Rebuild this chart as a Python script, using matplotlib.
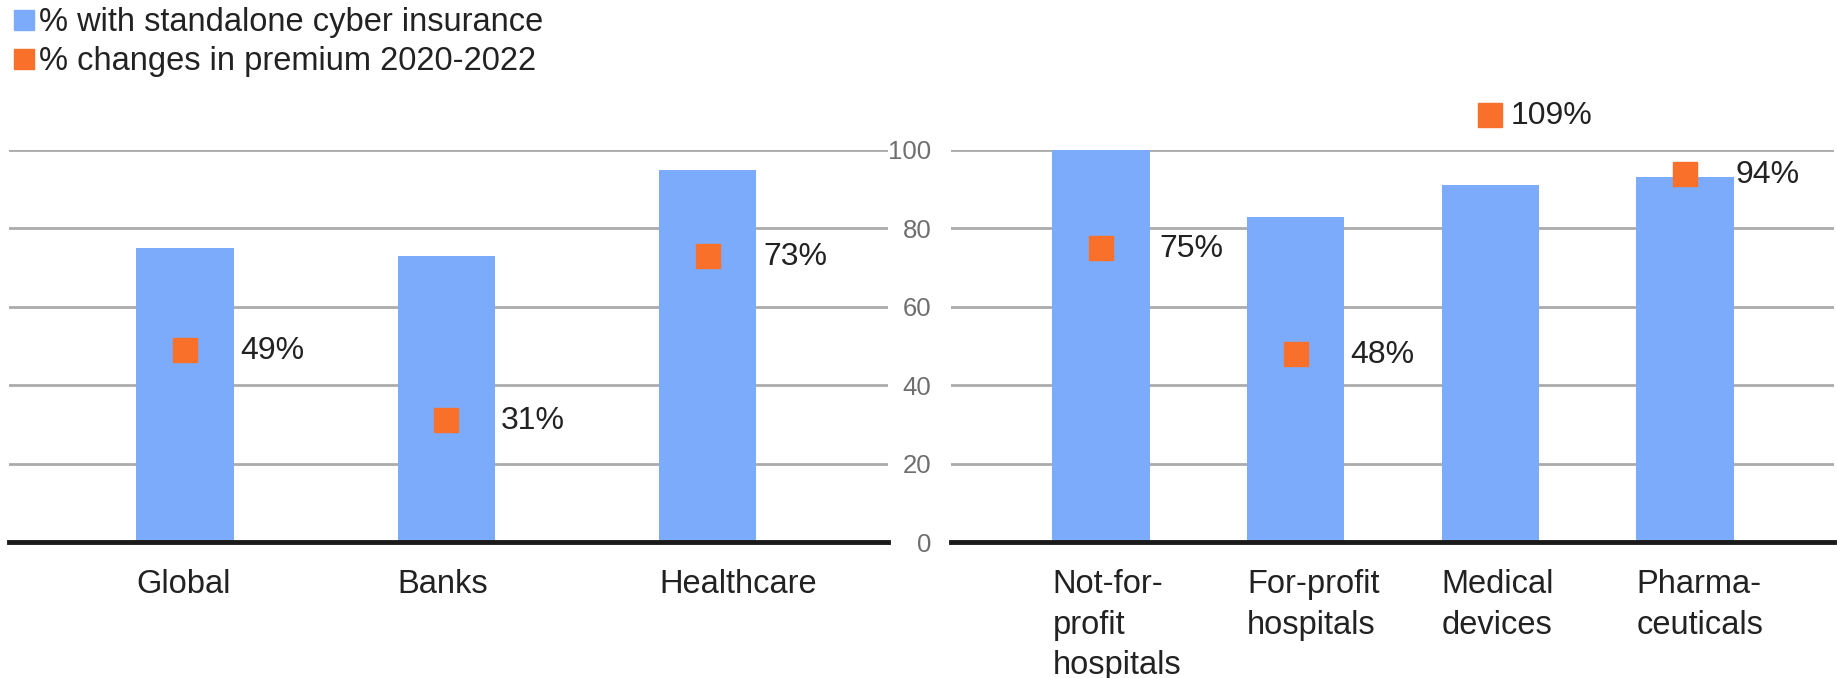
import matplotlib.pyplot as plt
from matplotlib.lines import Line2D

# Datos
left_cats = ["Global", "Banks", "Healthcare"]
left_insured = [75, 73, 95]
left_premium = [49, 31, 73]

right_cats = ["Not-for-\nprofit\nhospitals", "For-profit\nhospitals", "Medical\ndevices", "Pharma-\nceuticals"]
right_insured = [100, 83, 91, 93]
right_premium = [75, 48, 109, 94]

# offset horizontal de las etiquetas (pixeles)
left_offsets = [55, 55, 56]
right_offsets = [58, 54, 20, 50]

blue = "#7CABFC"
orange = "#F8702A"
grid_gray = "#ABABAB"

plt.rcParams['font.family'] = ['Liberation Sans', 'DejaVu Sans']

W, H = 1837, 678
fig = plt.figure(figsize=(W / 100, H / 100), dpi=100)

y0 = 542  # pixel de y=0
y100 = 150  # pixel de y=100
bottom = 1 - y0 / H
height = (y0 - y100) / H

ax1 = fig.add_axes([9 / W, bottom, (888 - 9) / W, height])
ax2 = fig.add_axes([951 / W, bottom, (1834 - 951) / W, height])


def dibujar(ax, cats, insured, premium, offsets, bar_w, xlim):
    x = list(range(len(cats)))
    ax.bar(x, insured, width=bar_w, color=blue, zorder=2)
    ax.plot(x, premium, linestyle='none', marker='s', markersize=17,
            color=orange, clip_on=False, zorder=3)
    for xi, p, off in zip(x, premium, offsets):
        ax.annotate(f"{p}%", (xi, p), xytext=(off, -1), textcoords='offset pixels',
                    ha='left', va='center', fontsize=23, color='#222222',
                    annotation_clip=False)
    for xi, c in zip(x, cats):
        ax.text(xi - bar_w / 2, -7, c, ha='left', va='top', fontsize=23.5,
                color='#222222', linespacing=1.38)
    ax.set_xlim(*xlim)
    ax.set_ylim(0, 100)
    ax.set_yticks([0, 20, 40, 60, 80, 100])
    ax.yaxis.grid(True, color=grid_gray, linewidth=2, zorder=0)
    ax.set_axisbelow(True)
    ax.axhline(0, color='#1a1a1a', linewidth=3.5, zorder=4, clip_on=False)
    for s in ax.spines.values():
        s.set_visible(False)
    ax.set_xticks([])
    ax.tick_params(axis='y', length=0)


dibujar(ax1, left_cats, left_insured, left_premium, left_offsets, 0.372, (-0.673, 2.69))
dibujar(ax2, right_cats, right_insured, right_premium, right_offsets, 0.5, (-0.771, 3.765))

ax1.set_yticklabels([])
ax2.tick_params(axis='y', labelsize=18.5, labelcolor='#6f6f6f', pad=14)

# Leyenda
handles = [
    Line2D([], [], linestyle='none', marker='s', markersize=14, color=blue),
    Line2D([], [], linestyle='none', marker='s', markersize=14, color=orange),
]
fig.legend(handles, ["% with standalone cyber insurance", "% changes in premium 2020-2022"],
           loc='upper left', bbox_to_anchor=(0.0045, 0.994), frameon=False, fontsize=23.5,
           handletextpad=0.1, handlelength=0.75, labelspacing=0.25, borderaxespad=0.0,
           borderpad=0.1, labelcolor='#222222')

fig.savefig("out.png", dpi=100)
